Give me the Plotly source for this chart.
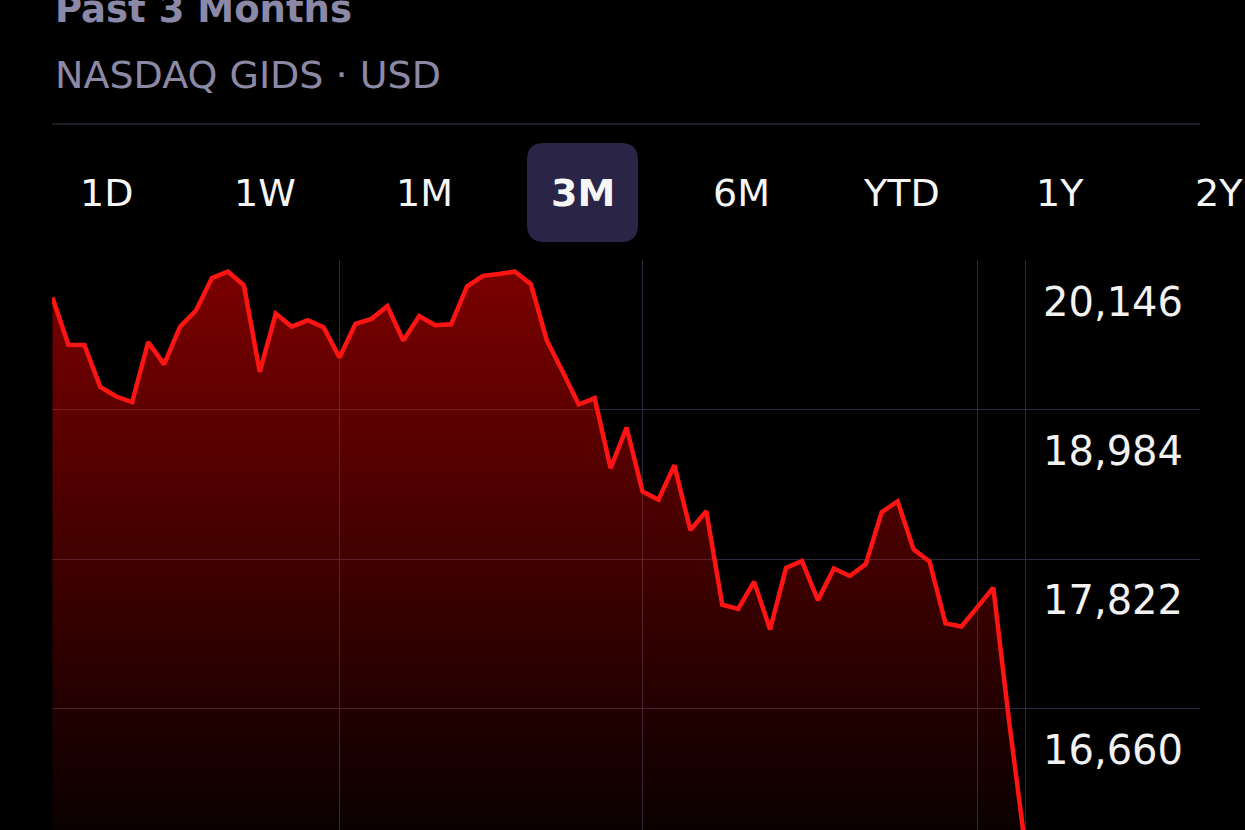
import plotly.graph_objects as go

# ---------------- data ----------------
dates = [
    "Jan 6", "Jan 7", "Jan 8", "Jan 10", "Jan 13", "Jan 14", "Jan 15", "Jan 16", "Jan 17",
    "Jan 21", "Jan 22", "Jan 23", "Jan 24", "Jan 27", "Jan 28", "Jan 29", "Jan 30", "Jan 31",
    "Feb 3", "Feb 4", "Feb 5", "Feb 6", "Feb 7", "Feb 10", "Feb 11", "Feb 12", "Feb 13",
    "Feb 14", "Feb 18", "Feb 19", "Feb 20", "Feb 21", "Feb 24", "Feb 25", "Feb 26", "Feb 27",
    "Feb 28",
    "Mar 3", "Mar 4", "Mar 5", "Mar 6", "Mar 7", "Mar 10", "Mar 11", "Mar 12", "Mar 13",
    "Mar 14", "Mar 17", "Mar 18", "Mar 19", "Mar 20", "Mar 21", "Mar 24", "Mar 25", "Mar 26",
    "Mar 27", "Mar 28", "Mar 31",
    "Apr 1", "Apr 2", "Apr 3", "Apr 4",
]
closes = [
    19858, 19490, 19489, 19162, 19088, 19044, 19511, 19338, 19630,
    19757, 20009, 20060, 19954, 19280, 19733, 19632, 19681, 19627,
    19392, 19654, 19692, 19791, 19523, 19714, 19643, 19650, 19945,
    20027, 20041, 20060, 19962, 19524, 19280, 19026, 19075, 18530,
    18847,
    18350, 18285, 18553, 18050, 18196, 17468, 17436, 17648, 17275,
    17754, 17808, 17504, 17751, 17692, 17784, 18188, 18272, 17899,
    17804, 17323, 17299,
    17449, 17601, 16551, 15588,
]
month_marks = ["Jan 6", "Feb 3", "Mar 3", "Apr 1", "Apr 4"]
price_ticks = [20146, 18984, 17822, 16660]

title_text = "Past 3 Months"
subtitle_text = "NASDAQ GIDS · USD"
tabs = ["1D", "1W", "1M", "3M", "6M", "YTD", "1Y", "2Y"]
selected_tab = "3M"

# ---------------- layout helpers ----------------
W, H = 1245, 830
PL, PR, PT, PB = 52, 1200, 260, 830   # plot area in pixels


def px(x):
    return (x - PL) / (PR - PL)


def py(y):
    return (PB - y) / (PB - PT)


y_top = 20150
y_bottom = 20146 - (PB - PT) * 1162 / 149.5

fig = go.Figure()
fig.add_trace(go.Scatter(
    x=dates, y=closes, mode="lines",
    line=dict(color="#ff1414", width=4.5),
    fill="tozeroy",
    fillgradient=dict(
        type="vertical",
        start=y_bottom, stop=y_top,
        colorscale=[[0, "rgba(255,0,0,0.04)"], [1, "rgba(255,0,0,0.49)"]],
    ),
    hoverinfo="skip", showlegend=False,
))

annotations = [
    dict(text=title_text, x=px(53), y=py(10), xref="paper", yref="paper",
         xanchor="left", yanchor="middle", showarrow=False,
         font=dict(family="DejaVu Sans", size=37, color="#8c89a8", weight="bold")),
    dict(text=subtitle_text, x=px(53), y=py(75), xref="paper", yref="paper",
         xanchor="left", yanchor="middle", showarrow=False,
         font=dict(family="DejaVu Sans", size=38, color="#8c89a6")),
]
for i, t in enumerate(tabs):
    sel = t == selected_tab
    annotations.append(dict(
        text=t, x=px(106 + i * 159), y=py(193), xref="paper", yref="paper",
        xanchor="center", yanchor="middle", showarrow=False,
        font=dict(family="DejaVu Sans", size=38, color="#f6f6f6",
                  weight="bold" if sel else "normal"),
    ))

# rounded highlight behind the selected tab
k = tabs.index(selected_tab)
cx = 106 + k * 159
x0, x1, y0, y1, r = cx - 56, cx + 55, 143, 242, 17
path = (
    f"M {px(x0 + r)} {py(y0)} L {px(x1 - r)} {py(y0)} "
    f"Q {px(x1)} {py(y0)} {px(x1)} {py(y0 + r)} L {px(x1)} {py(y1 - r)} "
    f"Q {px(x1)} {py(y1)} {px(x1 - r)} {py(y1)} L {px(x0 + r)} {py(y1)} "
    f"Q {px(x0)} {py(y1)} {px(x0)} {py(y1 - r)} L {px(x0)} {py(y0 + r)} "
    f"Q {px(x0)} {py(y0)} {px(x0 + r)} {py(y0)} Z"
)
shapes = [
    dict(type="path", path=path, xref="paper", yref="paper",
         fillcolor="#2a2446", line=dict(width=0), layer="below"),
    dict(type="line", x0=0, x1=1, y0=py(124), y1=py(124), xref="paper", yref="paper",
         line=dict(color="#26242f", width=1.5)),
]

fig.update_layout(
    width=W, height=H,
    margin=dict(l=PL, r=W - PR, t=PT, b=H - PB, pad=0),
    paper_bgcolor="#000000", plot_bgcolor="#000000",
    annotations=annotations, shapes=shapes,
    showlegend=False,
    xaxis=dict(
        type="category", range=[-0.03, 71.96],
        tickvals=month_marks, showticklabels=False, ticks="",
        showgrid=True, gridcolor="#2b2a3a", gridwidth=1.4,
        zeroline=False, showline=False, fixedrange=True,
    ),
    yaxis=dict(
        range=[y_bottom, y_top], side="right",
        tickvals=price_ticks, tickformat=",d",
        ticklabelposition="inside", ticklabelstandoff=14, ticklabelshift=41,
        tickfont=dict(family="DejaVu Sans", size=40, color="#f2f2f2"),
        ticks="", showgrid=True, gridcolor="#2b2a3a", gridwidth=1.4,
        zeroline=False, showline=False, fixedrange=True,
    ),
)

fig.write_html(
    "out.html",
    config={"displayModeBar": False},
    post_script="document.body.style.margin='0';document.body.style.background='#000';",
)
